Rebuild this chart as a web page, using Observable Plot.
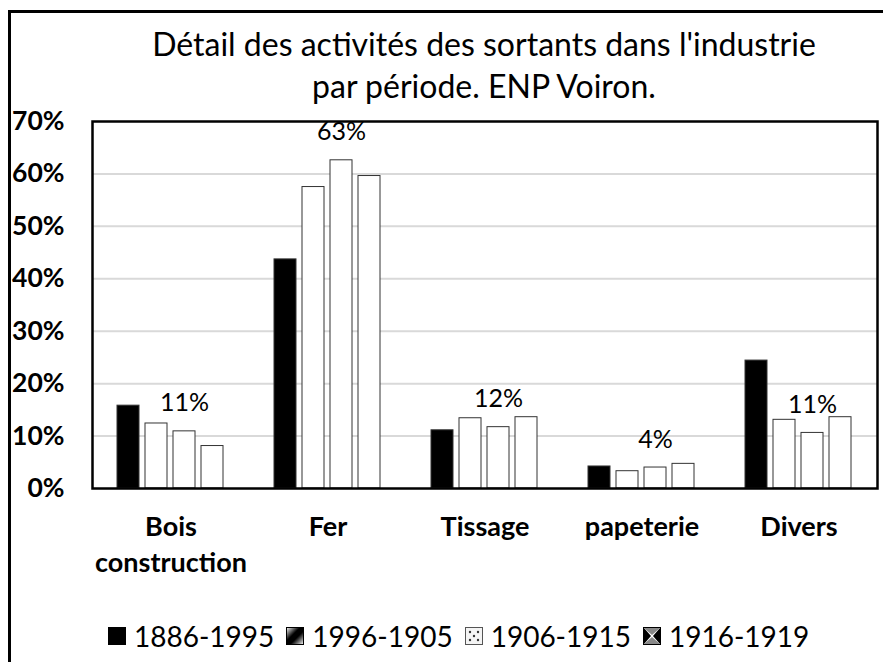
<!DOCTYPE html>
<html>
<head>
<meta charset="utf-8">
<script src="https://cdn.jsdelivr.net/npm/d3@7"></script>
<script src="https://cdn.jsdelivr.net/npm/@observablehq/plot@0.6"></script>
<style>
  html, body { margin: 0; padding: 0; width: 883px; height: 662px; overflow: hidden; background: #fff; font-family: Lato, sans-serif; }
  #box { position: absolute; left: 8px; top: 10px; width: 920px; height: 720px; border-left: 3px solid #000; border-top: 3px solid #000; box-sizing: border-box; }
  #title { position: absolute; left: 84px; width: 800px; top: 23px; text-align: center; font-size: 32px; line-height: 42px; color: #000; }
  #chart { position: absolute; left: 0; top: 100px; }
  #legend { position: absolute; left: 108px; top: 619px; display: flex; align-items: center; font-size: 28px; color: #000; white-space: nowrap; }
  .item { display: flex; align-items: center; margin-right: 12px; }
  .item svg { margin-right: 8px; }
</style>
</head>
<body>
<div id="box"></div>
<div id="title">Détail des activités des sortants dans l'industrie<br>par période. ENP Voiron.</div>
<div id="chart"></div>
<div id="legend"></div>
<script>
const categories = ["Bois construction", "Fer", "Tissage", "papeterie", "Divers"];
const categoryLabels = ["Bois\nconstruction", "Fer", "Tissage", "papeterie", "Divers"];
const periods = ["1886-1995", "1996-1905", "1906-1915", "1916-1919"];
const v1886_1995 = [0.158, 0.437, 0.111, 0.042, 0.244];
const v1996_1905 = [0.124, 0.575, 0.134, 0.033, 0.131];
const v1906_1915 = [0.109, 0.626, 0.117, 0.040, 0.106];
const v1916_1919 = [0.081, 0.596, 0.136, 0.047, 0.136];
const yTicks = [0, 0.1, 0.2, 0.3, 0.4, 0.5, 0.6, 0.7];
const gridTicks = [0.1, 0.2, 0.3, 0.4, 0.5, 0.6];
const labelledPeriod = "1906-1915";

const series = [v1886_1995, v1996_1905, v1906_1915, v1916_1919];
const data = [];
categories.forEach((c, i) => periods.forEach((p, j) => data.push({category: c, period: p, value: series[j][i]})));

const fmt = d3.format(".0%");
const labelOf = new Map(categories.map((c, i) => [c, categoryLabels[i]]));

const chart = Plot.plot({
  width: 883,
  height: 480,
  marginLeft: 91,
  marginRight: 6,
  marginTop: 21,
  marginBottom: 92,
  style: {fontFamily: "Lato, sans-serif", color: "#000", background: "transparent"},
  fx: {domain: categories, padding: 0, label: null},
  x: {domain: periods, paddingInner: 0.21, paddingOuter: 0.86, axis: null},
  y: {domain: [0, 0.7], axis: null},
  color: {domain: periods, range: ["#000", "#fff", "#fff", "#fff"]},
  marks: [
    Plot.ruleY(gridTicks, {stroke: "#d9d9d9", strokeWidth: 2}),
    Plot.barY(data, {fx: "category", x: "period", y: "value", fill: "period", stroke: "#333", strokeWidth: 1}),
    Plot.text(data.filter(d => d.period === labelledPeriod), {fx: "category", x: "period", y: "value", text: d => fmt(d.value), dy: -28, fontSize: 25, fill: "#000"}),
    Plot.frame({facet: "super", stroke: "#000", strokeWidth: 2.5}),
    Plot.axisY(yTicks, {tickFormat: fmt, tickSize: 0, tickPadding: 28, fontSize: 26.5, fontWeight: "bold", label: null}),
    Plot.axisFx({anchor: "bottom", tickSize: 0, tickPadding: 23, fontSize: 27, fontWeight: "bold", lineHeight: 1.3, tickFormat: d => labelOf.get(d), label: null})
  ]
});
document.getElementById("chart").appendChild(chart);

// legend
const swatches = [
  `<rect x="0" y="0" width="18" height="18" fill="#000"/>`,
  `<defs><linearGradient id="g2" x1="0" y1="0" x2="1" y2="1"><stop offset="0" stop-color="#fff"/><stop offset="0.4" stop-color="#000"/><stop offset="0.6" stop-color="#000"/><stop offset="1" stop-color="#fff"/></linearGradient></defs><rect x="0.5" y="0.5" width="17" height="17" fill="url(#g2)" stroke="#000"/>`,
  `<rect x="0.5" y="0.5" width="17" height="17" fill="#f4f4f4" stroke="#555"/><circle cx="5" cy="5" r="1.2" fill="#333"/><circle cx="13" cy="5" r="1.2" fill="#333"/><circle cx="9" cy="9" r="1.2" fill="#333"/><circle cx="5" cy="13" r="1.2" fill="#333"/><circle cx="13" cy="13" r="1.2" fill="#333"/>`,
  `<rect x="0.5" y="0.5" width="17" height="17" fill="#fff" stroke="#000"/><path d="M1 1 L8 9 L1 17 Z M17 1 L10 9 L17 17 Z" fill="#000"/><path d="M1 1 L9 8 L17 1 Z M1 17 L9 10 L17 17 Z" fill="#888"/>`
];
const leg = document.getElementById("legend");
periods.forEach((p, i) => {
  const el = document.createElement("div");
  el.className = "item";
  el.innerHTML = `<svg width="18" height="18">${swatches[i]}</svg><span>${p}</span>`;
  leg.appendChild(el);
});
</script>
</body>
</html>
